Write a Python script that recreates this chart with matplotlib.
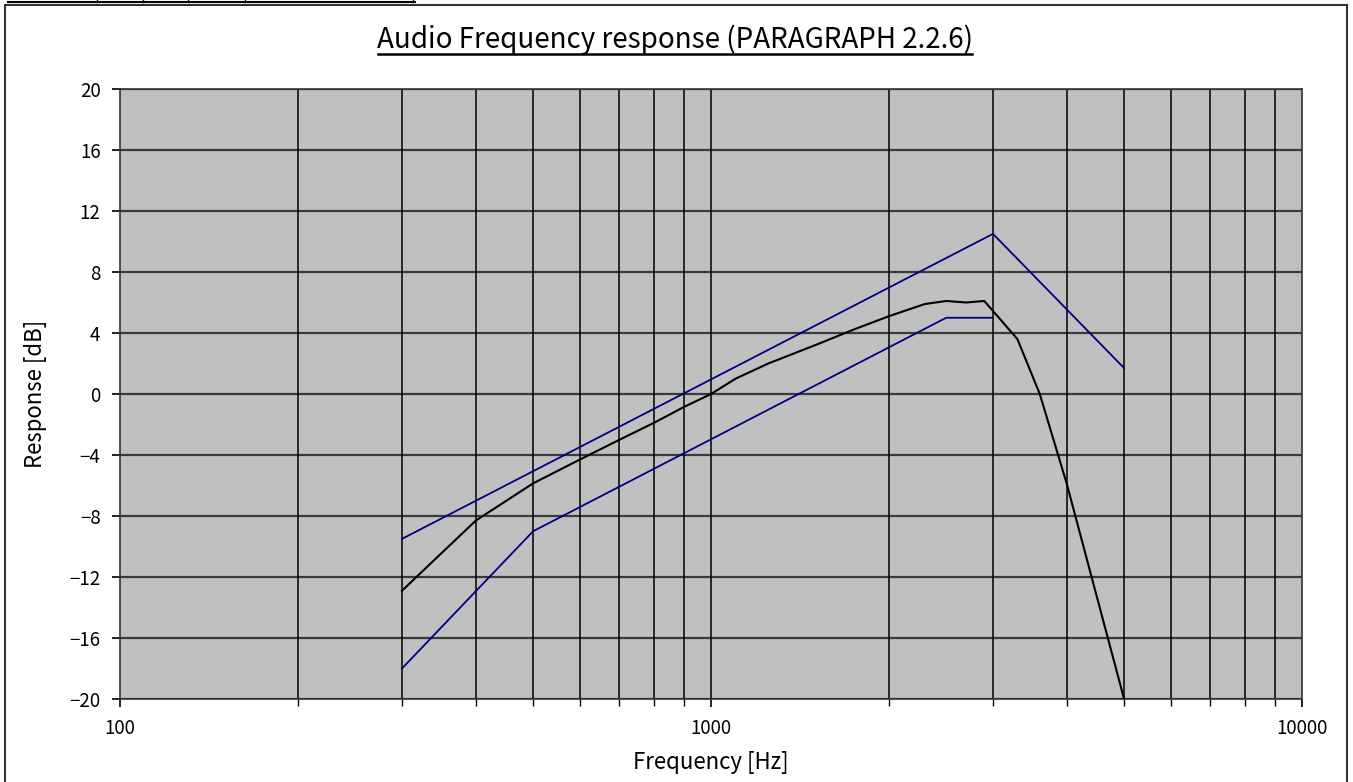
import matplotlib
matplotlib.use('Agg')
import matplotlib.pyplot as plt
from matplotlib.lines import Line2D
from matplotlib.ticker import FixedLocator, NullFormatter

plt.rcParams['font.family'] = ['Noto Sans CJK JP', 'DejaVu Sans']

# limits (blue) and measured response (black)
upper_f = [300, 3000, 5000]
upper_db = [-9.5, 10.5, 1.7]
lower_f = [300, 500, 2500, 3000]
lower_db = [-18, -9, 5, 5]
meas_f = [300, 400, 500, 600, 700, 800, 900, 1000, 1100, 1250, 1500, 1750,
          2000, 2300, 2500, 2700, 2900, 3300, 3600, 4000, 5000]
meas_db = [-12.9, -8.3, -5.86, -4.3, -3.0, -1.9, -0.85, 0, 1.0, 2.0, 3.2, 4.25,
           5.1, 5.9, 6.1, 6.0, 6.1, 3.6, 0.0, -5.9, -20]

yticks = [-20, -16, -12, -8, -4, 0, 4, 8, 12, 16, 20]
xmajor = [100, 1000, 10000]
xminor = [m * d for d in (100, 1000) for m in range(2, 10)]

fig = plt.figure(figsize=(13.53, 7.82), dpi=100)
ax = fig.add_axes([120 / 1353, 1 - 699 / 782, 1182 / 1353, 610 / 782])
ax.set_facecolor('#c0c0c0')

ax.set_xscale('log')
ax.set_xlim(100, 10000)
ax.set_ylim(-20, 20)

for y in yticks:
    ax.axhline(y, color='#3a3a3a', lw=1.6, zorder=1)
for x in xmajor[1:-1] + xminor:
    ax.axvline(x, color='black', lw=1.1, zorder=1)

ax.plot(upper_f, upper_db, color='#000080', lw=1.3, zorder=3)
ax.plot(lower_f, lower_db, color='#000080', lw=1.3, zorder=3)
ax.plot(meas_f, meas_db, color='black', lw=1.5, zorder=4)

ax.xaxis.set_major_locator(FixedLocator(xmajor))
ax.xaxis.set_minor_locator(FixedLocator(xminor))
ax.xaxis.set_minor_formatter(NullFormatter())
ax.set_xticklabels([str(v) for v in xmajor])
ax.set_yticks(yticks)
ax.set_yticklabels([str(v).replace('-', '\u2212') for v in yticks])
ax.tick_params(axis='both', which='major', direction='out', length=6, width=1.2,
               labelsize=13.5, color='black')
ax.tick_params(axis='y', pad=8)
ax.tick_params(axis='x', pad=8)
ax.tick_params(axis='x', which='minor', direction='out', length=5, width=1.0)

for s in ax.spines.values():
    s.set_color('#333333')
    s.set_linewidth(1.2)

ax.set_xlabel('Frequency [Hz]', fontsize=16, labelpad=8)
ax.set_ylabel('Response [dB]', fontsize=16, labelpad=16)

# title with underline
fig.text(675 / 1353, 1 - 40 / 782, 'Audio Frequency response (PARAGRAPH 2.2.6)',
         ha='center', va='center', fontsize=20)
fig.add_artist(Line2D([378 / 1353, 972 / 1353], [1 - 54 / 782, 1 - 54 / 782],
                      color='black', lw=1.8))

# outer frame
fig.add_artist(Line2D([4.5 / 1353, 4.5 / 1353], [0, 1 - 5 / 782], color='#333333', lw=1.5))
fig.add_artist(Line2D([1347 / 1353, 1347 / 1353], [0, 1 - 5 / 782], color='#333333', lw=1.5))
fig.add_artist(Line2D([4.5 / 1353, 1347 / 1353], [1 - 5 / 782, 1 - 5 / 782], color='#333333', lw=1.5))

# cell border fragment at the very top
fig.add_artist(Line2D([8 / 1353, 415 / 1353], [1 - 1.5 / 782, 1 - 1.5 / 782], color='black', lw=1.5))
for px in [97, 143, 188, 245, 413]:
    fig.add_artist(Line2D([px / 1353, px / 1353], [1 - 1.5 / 782, 1], color='black', lw=1.0))

fig.savefig('out.png', dpi=100)
